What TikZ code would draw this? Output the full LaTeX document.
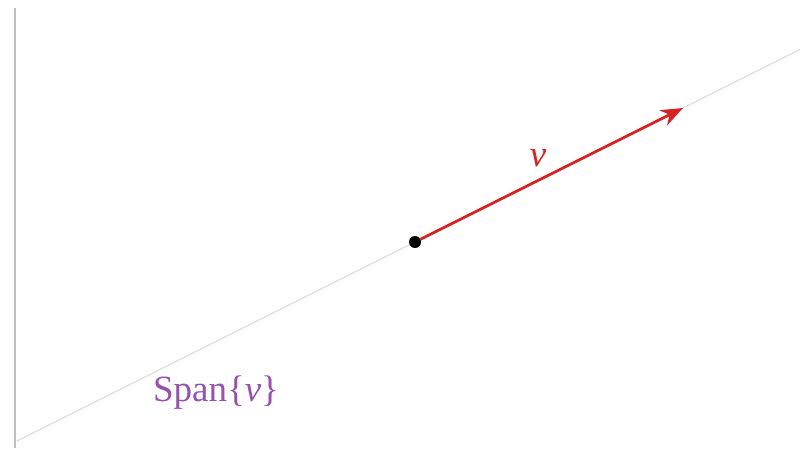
\documentclass[tikz,border=0pt]{standalone}
\usepackage{fontspec}
\setmainfont{Liberation Serif}
\usepackage{tikz}
\usetikzlibrary{arrows.meta,positioning,calc}
\definecolor{vecred}{RGB}{214,34,34}
\definecolor{spanpurple}{RGB}{150,82,172}
\definecolor{axisgray}{RGB}{192,192,192}
\definecolor{linegray}{RGB}{222,222,222}

\begin{document}
\begin{tikzpicture}[x=1pt, y=-1pt,
    axis/.style={draw=axisgray, line width=1.6pt},
    spanline/.style={draw=linegray, line width=1.2pt},
    vecarrow/.style={-{Stealth[length=22pt, width=17pt, inset=7pt]}, draw=vecred, line width=2.8pt},
    lbl/.style={font=\fontsize{37}{44}\selectfont, inner sep=0pt},
]
\useasboundingbox (0,0) rectangle (800,448);
\coordinate (axtop) at (15,8);
\coordinate (axbot) at (15,448);
\coordinate (lo) at (17,441);
\coordinate (hi) at (800,49.5);
\coordinate (tip) at (683,108);
\draw[axis] (axtop) -- (axbot);
\draw[spanline] (lo) -- (hi);
\node[circle, fill=black, inner sep=0pt, minimum size=12pt] (origin) at (415,242) {};
\node[lbl, text=vecred] (vlabel) at (538,158) {\textit{v}};
\node[lbl, text=spanpurple] (spanlabel) at (216,393) {Span\{\textit{v}\}};
\draw[vecarrow] (origin) -- (tip);
\end{tikzpicture}
\end{document}
